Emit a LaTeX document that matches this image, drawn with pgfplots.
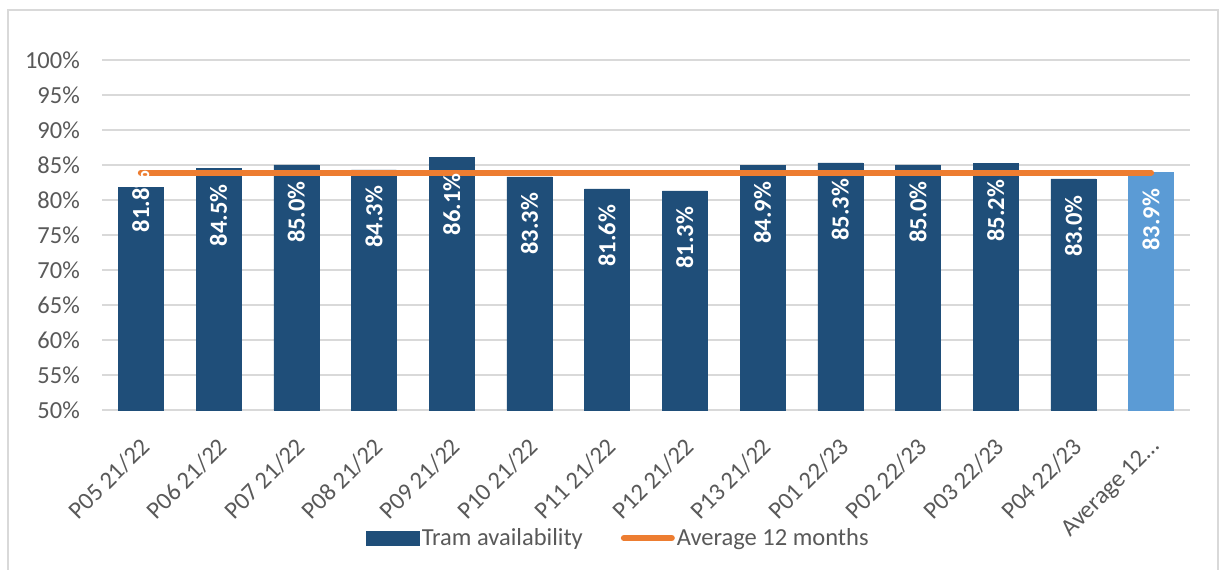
\documentclass[border=0pt]{standalone}
\usepackage{fontspec}
\setmainfont{Carlito}
\usepackage{pgfplots}
\pgfplotsset{compat=1.18}
\definecolor{tramblue}{HTML}{1F4E79}
\definecolor{avgblue}{HTML}{5B9BD5}
\definecolor{avgorange}{HTML}{ED7D31}
\definecolor{gridgray}{HTML}{D9D9D9}
\definecolor{labgray}{HTML}{595959}
\newcommand\cf{\fontsize{24.5}{28}\selectfont}

\begin{document}
\begin{tikzpicture}
\useasboundingbox (0,0) rectangle (1224pt,570pt);
\draw[gridgray, line width=1.5pt] (8pt,-5pt) rectangle (1218pt,560pt);
\begin{axis}[
  at={(102pt,160pt)}, anchor=south west,
  scale only axis, width=1088pt, height=350pt,
  xmin=-0.5, xmax=13.5, ymin=50, ymax=100,
  ytick={50,55,...,100},
  xtick={0,...,13},
  xticklabels={P05 21/22,P06 21/22,P07 21/22,P08 21/22,P09 21/22,P10 21/22,P11 21/22,P12 21/22,P13 21/22,P01 22/23,P02 22/23,P03 22/23,P04 22/23,Average 12…},
  yticklabel={\pgfmathprintnumber{\tick}\%},
  /pgf/number format/assume math mode=true,
  axis line style={draw=none},
  tick style={draw=none},
  major tick length=0pt,
  ymajorgrids,
  major grid style={gridgray, line width=1.5pt},
  yticklabel style={font=\cf, color=labgray, anchor=east, inner sep=0pt, xshift=-22pt},
  xticklabel style={font=\cf, color=labgray, inner sep=0pt, xshift=-2pt, yshift=-26pt, rotate=45, anchor=north east},
  clip=false,
  legend columns=2,
  legend style={at={(0.4747,-0.366)}, anchor=center, draw=none, fill=none,
    font=\cf, text=labgray, inner sep=0pt,
    /tikz/every even column/.append style={column sep=36pt}},
]
% first bar, its label sits higher
\addplot[ybar, bar width=45pt, bar shift=0pt, fill=tramblue, draw=tramblue,
  nodes near coords={\pgfmathprintnumber[fixed,fixed zerofill,precision=1]{\pgfplotspointmeta}\%},
  every node near coord/.style={font=\bfseries\cf, color=white, yshift=17pt, rotate=90, anchor=east, inner sep=0pt},
  legend image code/.code={\fill[tramblue] (0pt,-7pt) rectangle (53pt,7pt);}]
  coordinates {(0,81.8)};
\addlegendentry{Tram availability}
\addplot[ybar, bar width=45pt, bar shift=0pt, fill=tramblue, draw=tramblue, forget plot,
  nodes near coords={\pgfmathprintnumber[fixed,fixed zerofill,precision=1]{\pgfplotspointmeta}\%},
  every node near coord/.style={font=\bfseries\cf, color=white, yshift=-16pt, rotate=90, anchor=east, inner sep=0pt}]
  coordinates {(1,84.5) (2,85.0) (3,84.3) (4,86.1) (5,83.3) (6,81.6) (7,81.3) (8,84.9) (9,85.3) (10,85.0) (11,85.2) (12,83.0)};
\addplot[ybar, bar width=45pt, bar shift=0pt, fill=avgblue, draw=avgblue, forget plot,
  nodes near coords={\pgfmathprintnumber[fixed,fixed zerofill,precision=1]{\pgfplotspointmeta}\%},
  every node near coord/.style={font=\bfseries\cf, color=white, yshift=-16pt, rotate=90, anchor=east, inner sep=0pt}]
  coordinates {(13,83.9)};
\addplot[avgorange, line width=6pt, line cap=round, mark=none,
  legend image code/.code={\draw[avgorange, line width=6pt, line cap=round] (3pt,0pt) -- (51pt,0pt);}]
  coordinates {(0,83.9) (1,83.9) (2,83.9) (3,83.9) (4,83.9) (5,83.9) (6,83.9) (7,83.9) (8,83.9) (9,83.9) (10,83.9) (11,83.9) (12,83.9) (13,83.9)};
\addlegendentry{Average 12 months}
\end{axis}
\end{tikzpicture}
\end{document}
